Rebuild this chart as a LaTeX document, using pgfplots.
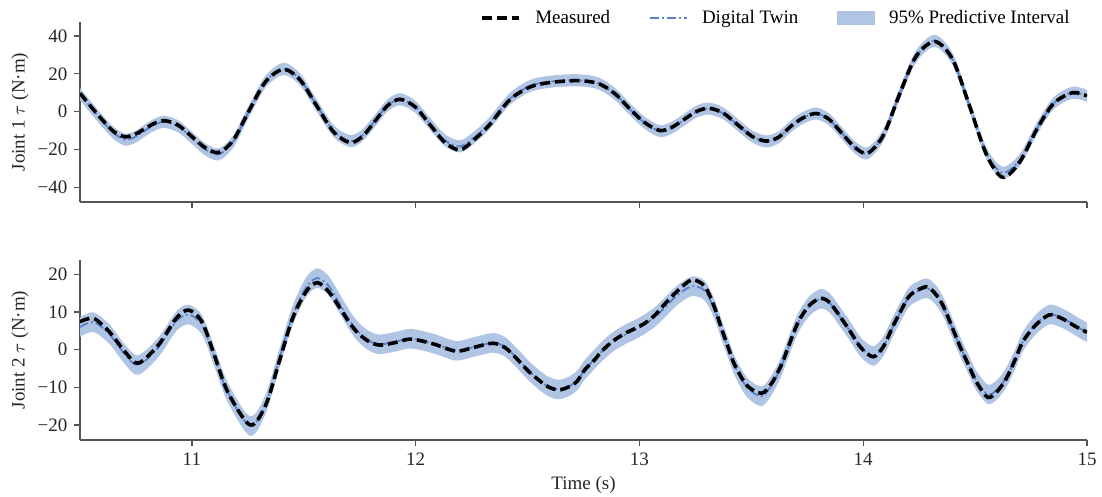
\documentclass[border=0pt]{standalone}
\usepackage{fontspec}
\setmainfont{Liberation Serif}
\usepackage{pgfplots}
\usepackage{pgfplotstable}
\pgfplotsset{compat=1.18}
\usepgfplotslibrary{fillbetween}

\definecolor{twin}{RGB}{88,128,200}
\definecolor{band}{RGB}{176,196,228}
\definecolor{spine}{RGB}{85,85,85}

% joint 1: time, measured, digital twin, interval low/high
\pgfplotstableread{
t meas twin lo hi
10.50 9.7 9.2 6.0 12.4
10.55 2.5 2.0 -1.2 5.2
10.60 -4.4 -5.0 -8.2 -1.8
10.65 -10.5 -11.3 -14.5 -8.1
10.70 -13.3 -14.8 -18.0 -11.6
10.745 -12.05 -13.5 -16.7 -10.3
10.79 -9.05 -10.0 -13.2 -6.8
10.835 -6.05 -6.8 -10.0 -3.6
10.88 -4.8 -5.4 -8.6 -2.2
10.94 -7.26 -7.9 -11.1 -4.7
11.00 -13.2 -13.9 -17.1 -10.7
11.06 -19.14 -20.0 -23.2 -16.8
11.12 -21.6 -22.6 -25.8 -19.4
11.185 -15.15 -15.8 -19.0 -12.6
11.255 0.4 0.2 -3.0 3.4
11.33 15.95 16.0 12.8 19.2
11.41 22.4 22.6 19.4 25.8
11.484 16.7 16.9 13.7 20.1
11.558 3.0 3.2 0.0 6.4
11.633 -10.7 -10.3 -13.5 -7.1
11.707 -16.4 -15.6 -18.8 -12.4
11.763 -13.04 -12.5 -15.7 -9.3
11.819 -4.95 -4.7 -7.9 -1.5
11.874 3.14 3.2 0.0 6.4
11.93 6.5 6.5 3.3 9.7
11.997 2.57 2.7 -0.5 5.9
12.064 -6.9 -6.5 -9.7 -3.3
12.131 -16.37 -15.2 -18.4 -12.0
12.198 -20.3 -18.4 -21.6 -15.2
12.26 -15.0 -13.8 -17.0 -10.6
12.33 -7.0 -6.2 -9.4 -3.0
12.42 6.2 6.6 3.4 9.8
12.51 13.0 13.5 10.3 16.7
12.60 15.4 15.8 12.6 19.0
12.72 16.4 16.6 13.4 19.8
12.80 15.4 15.5 12.3 18.7
12.845 13.2 13.2 10.0 16.4
12.90 8.5 8.3 5.1 11.5
12.95 2.3 2.1 -1.1 5.3
13.02 -5.5 -5.6 -8.8 -2.4
13.09 -10.0 -10.3 -13.5 -7.1
13.145 -8.27 -8.5 -11.7 -5.3
13.20 -4.1 -4.3 -7.5 -1.1
13.255 0.07 0.0 -3.2 3.2
13.31 1.8 1.6 -1.6 4.8
13.374 -0.75 -0.9 -4.1 2.3
13.4385 -6.9 -7.0 -10.2 -3.8
13.503 -13.05 -13.1 -16.3 -9.9
13.567 -15.6 -15.8 -19.0 -12.6
13.623 -13.46 -13.5 -16.7 -10.3
13.679 -7.5 -7.5 -10.7 -4.3
13.734 -3.14 -3.1 -6.3 0.1
13.79 -1.0 -1.0 -4.2 2.2
13.8475 -4.08 -4.1 -7.3 -0.9
13.905 -11.5 -11.5 -14.7 -8.3
13.9625 -18.9 -18.9 -22.1 -15.7
14.02 -22.0 -22.0 -25.2 -18.8
14.09 -12.5 -12.5 -15.7 -9.3
14.16 8.5 8.5 5.3 11.7
14.235 29.0 29.0 25.8 32.2
14.32 37.1 37.4 34.2 40.6
14.40 27.5 27.6 24.4 30.8
14.475 3.0 3.0 -0.2 6.2
14.55 -22.5 -22.0 -25.2 -18.8
14.623 -34.8 -32.3 -35.5 -29.1
14.70 -26.5 -25.5 -28.7 -22.3
14.775 -9.5 -9.2 -12.4 -6.0
14.85 4.2 4.3 1.1 7.5
14.935 10.0 10.0 6.8 13.2
15.00 8.3 8.3 5.1 11.5
}\jointone

% joint 2
\pgfplotstableread{
t meas twin lo hi
10.50 7.4 6.0 3.4 8.6
10.56 8.3 7.3 4.7 9.9
10.63 4.8 4.2 1.6 6.8
10.70 -0.5 -1.2 -3.8 1.4
10.76 -3.6 -4.1 -6.7 -1.5
10.85 1.2 0.6 -2.0 3.2
10.93 8.3 7.5 4.9 10.1
10.985 10.5 9.3 6.7 11.9
11.045 7.4 6.6 4.0 9.2
11.10 -1.4 -1.8 -4.4 0.8
11.16 -11.2 -11.3 -13.9 -8.7
11.26 -20.0 -20.3 -22.9 -17.7
11.33 -14.7 -14.4 -17.0 -11.8
11.39 -3.2 -2.6 -5.2 0.0
11.45 8.3 9.0 6.4 11.6
11.51 15.4 16.5 13.9 19.1
11.56 17.8 19.0 16.4 21.6
11.61 15.5 17.0 14.4 19.6
11.66 11.2 12.2 9.6 14.8
11.70 7.5 8.2 5.6 10.8
11.74 4.5 4.9 2.3 7.5
11.79 2.2 2.4 -0.2 5.0
11.84 1.2 1.4 -1.2 4.0
11.91 1.9 2.1 -0.5 4.7
11.98 2.8 2.9 0.3 5.5
12.08 1.5 1.6 -1.0 4.2
12.18 -0.4 -0.3 -2.9 2.3
12.26 0.6 0.7 -1.9 3.3
12.345 1.7 1.8 -0.8 4.4
12.40 0.5 0.7 -1.9 3.3
12.45 -2.3 -2.1 -4.7 0.5
12.50 -5.5 -5.3 -7.9 -2.7
12.54 -7.6 -7.5 -10.1 -4.9
12.59 -9.8 -9.7 -12.3 -7.1
12.637 -10.7 -10.6 -13.2 -8.0
12.68 -10.0 -9.9 -12.5 -7.3
12.72 -8.5 -8.3 -10.9 -5.7
12.755 -5.4 -5.4 -8.0 -2.8
12.80 -2.7 -2.5 -5.1 0.1
12.83 -0.5 -0.6 -3.2 2.0
12.88 2.2 2.0 -0.6 4.6
12.935 4.3 4.0 1.4 6.6
12.98 5.6 5.3 2.7 7.9
13.024 7.0 6.8 4.2 9.4
13.07 9.2 8.7 6.1 11.3
13.11 11.9 11.0 8.4 13.6
13.17 15.6 14.5 11.9 17.1
13.232 18.5 16.8 14.2 19.4
13.28 17.5 16.2 13.6 18.8
13.306 15.4 14.4 11.8 17.0
13.34 10.5 10.0 7.4 12.6
13.366 5.7 5.5 2.9 8.1
13.40 0.0 -0.2 -2.8 2.4
13.426 -4.1 -4.4 -7.0 -1.8
13.48 -9.5 -10.0 -12.6 -7.4
13.545 -11.6 -12.4 -15.0 -9.8
13.59 -9.0 -9.5 -12.1 -6.9
13.634 -4.1 -4.4 -7.0 -1.8
13.67 1.5 1.3 -1.3 3.9
13.71 7.4 7.2 4.6 9.8
13.76 11.8 11.6 9.0 14.2
13.81 13.6 13.5 10.9 16.1
13.85 12.5 12.4 9.8 15.0
13.90 8.5 8.4 5.8 11.0
13.94 5.0 5.0 2.4 7.6
13.99 0.5 0.6 -2.0 3.2
14.045 -1.9 -1.7 -4.3 0.9
14.09 0.8 0.9 -1.7 3.5
14.135 6.5 6.4 3.8 9.0
14.17 10.5 10.4 7.8 13.0
14.21 14.5 14.3 11.7 16.9
14.28 16.7 16.3 13.7 18.9
14.32 15.0 14.8 12.2 17.4
14.355 11.9 11.7 9.1 14.3
14.39 7.0 6.9 4.3 9.5
14.43 1.2 1.2 -1.4 3.8
14.47 -4.0 -3.8 -6.4 -1.2
14.505 -8.5 -8.2 -10.8 -5.6
14.557 -12.7 -11.9 -14.5 -9.3
14.60 -11.0 -10.5 -13.1 -7.9
14.64 -7.6 -7.3 -9.9 -4.7
14.68 -2.5 -2.4 -5.0 0.2
14.713 2.1 2.1 -0.5 4.7
14.77 6.5 6.6 4.0 9.2
14.83 9.2 9.3 6.7 11.9
14.88 8.5 8.6 6.0 11.2
14.925 7.0 7.2 4.6 9.8
14.96 5.8 5.9 3.3 8.5
15.00 4.6 4.6 2.0 7.2
}\jointtwo

\pgfplotsset{
  jt/.style={
    scale only axis, width=503.5pt, height=90pt,
    xmin=10.5, xmax=15,
    axis x line*=bottom, axis y line*=left,
    axis line style={spine, line width=0.7pt},
    tick align=outside, major tick length=3pt,
    tick style={spine, line width=0.7pt},
    xtick={11,12,13,14,15},
    ticklabel style={text=black!85},
    ylabel style={at={(axis description cs:-0.0596,0.5)}, anchor=center, text=black!85},
  },
  meas/.style={black, line width=1.8pt, dash pattern=on 5pt off 2.4pt},
  dt/.style={twin, line width=0.9pt, dash pattern=on 4.5pt off 1.5pt on 1pt off 1.5pt},
  legline/.style={legend image code/.code={\draw[##1] (0pt,0pt) -- (18.5pt,0pt);}},
  legband/.style={legend image code/.code={\fill[band] (0pt,-3.25pt) rectangle (18.5pt,3.25pt);}},
}

\begin{document}
\fontsize{9.5pt}{11pt}\selectfont
\begin{tikzpicture}
\begin{axis}[jt,
    at={(0pt,0pt)}, anchor=south west,
    ymin=-47.8, ymax=47.4,
    ytick={-40,-20,0,20,40},
    yticklabels={−40,−20,0,20,40},
    xticklabels={},
    ylabel={Joint 1 $\tau$ (N·m)},
    legend columns=3,
    legend style={draw=none, fill=none, at={(axis description cs:0.993,1.022)}, anchor=east,
      /tikz/every odd column/.append style={column sep=5pt},
      /tikz/every even column/.append style={column sep=17.5pt}},
]
\addlegendimage{meas, legline}
\addlegendentry{Measured}
\addlegendimage{dt, legline}
\addlegendentry{Digital Twin}
\addlegendimage{legband}
\addlegendentry{95\% Predictive Interval}

\addplot[name path=hiA, draw=none, smooth, forget plot] table[x=t, y=hi] {\jointone};
\addplot[name path=loA, draw=none, smooth, forget plot] table[x=t, y=lo] {\jointone};
\addplot[band, draw=none, forget plot] fill between[of=hiA and loA];
\addplot[dt, smooth, forget plot] table[x=t, y=twin] {\jointone};
\addplot[meas, smooth, forget plot] table[x=t, y=meas] {\jointone};
\end{axis}

\begin{axis}[jt,
    at={(0pt,-119pt)}, anchor=south west,
    ymin=-24, ymax=23.8,
    ytick={-20,-10,0,10,20},
    yticklabels={−20,−10,0,10,20},
    xticklabels={11,12,13,14,15},
    ylabel={Joint 2 $\tau$ (N·m)},
    xlabel={Time (s)},
    xlabel style={at={(axis description cs:0.5,0)}, anchor=center, yshift=-22.5pt, text=black!85},
]
\addplot[name path=hiB, draw=none, smooth] table[x=t, y=hi] {\jointtwo};
\addplot[name path=loB, draw=none, smooth] table[x=t, y=lo] {\jointtwo};
\addplot[band, draw=none] fill between[of=hiB and loB];
\addplot[dt, smooth] table[x=t, y=twin] {\jointtwo};
\addplot[meas, smooth] table[x=t, y=meas] {\jointtwo};
\end{axis}
\pgfresetboundingbox
\useasboundingbox (-40pt,-147.5pt) rectangle (511pt,101pt);
\end{tikzpicture}
\end{document}
